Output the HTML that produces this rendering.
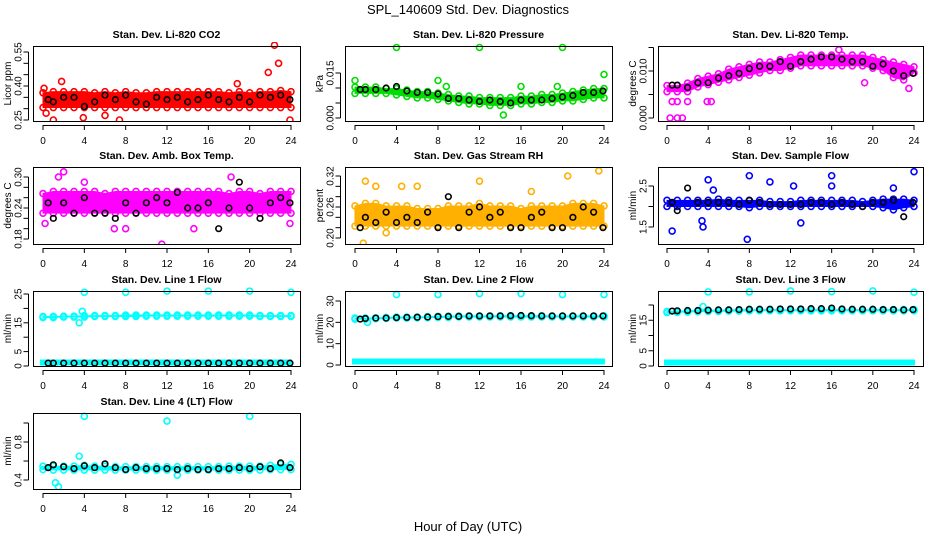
<!DOCTYPE html>
<html><head><meta charset="utf-8"><style>
html,body{margin:0;padding:0;background:#fff;width:936px;height:540px;overflow:hidden}
svg{display:block;font-family:"Liberation Sans",sans-serif}
.tt{font-weight:bold;font-size:10.5px}
.tk{font-size:10px}
</style></head><body>
<svg id="chart" width="936" height="540">
<text x="468" y="14" text-anchor="middle" font-size="13">SPL_140609  Std. Dev. Diagnostics</text>
<text x="468" y="531" text-anchor="middle" font-size="13">Hour of Day (UTC)</text>
</svg>
<script>
const hours = [0,1,2,3,4,5,6,7,8,9,10,11,12,13,14,15,16,17,18,19,20,21,22,23,24];
const xTicks = [0,4,8,12,16,20,24];

const co2Lo = [0.305,0.305,0.305,0.305,0.305,0.305,0.305,0.305,0.305,0.305,0.305,0.305,0.305,0.305,0.305,0.305,0.305,0.305,0.305,0.305,0.305,0.305,0.305,0.305,0.305];
const co2Hi = [0.37,0.375,0.375,0.375,0.375,0.37,0.375,0.37,0.375,0.37,0.37,0.375,0.375,0.375,0.375,0.375,0.375,0.375,0.37,0.375,0.37,0.375,0.375,0.38,0.375];
const co2Black = [0.34,0.33,0.35,0.35,0.31,0.33,0.36,0.34,0.36,0.33,0.32,0.35,0.34,0.35,0.33,0.34,0.36,0.34,0.33,0.35,0.33,0.36,0.35,0.36,0.34];
const co2Out = [[0.1,0.39],[0.3,0.28],[1,0.25],[1.8,0.42],[18.8,0.41],[21.8,0.46],[22.4,0.58],[22.8,0.50],[23.9,0.25],[7.4,0.25],[6,0.27],[3.9,0.26]];

const presLo = [0.0082,0.0082,0.0082,0.0082,0.0077,0.0072,0.0067,0.0067,0.0062,0.0057,0.0052,0.0047,0.0047,0.0042,0.0042,0.0042,0.0047,0.0047,0.0052,0.0052,0.0057,0.0057,0.0062,0.0067,0.0067];
const presHi = [0.0103,0.0103,0.0103,0.0098,0.0098,0.0093,0.0088,0.0088,0.0083,0.0078,0.0073,0.0073,0.0068,0.0068,0.0068,0.0068,0.0073,0.0073,0.0078,0.0078,0.0083,0.0088,0.0093,0.0098,0.0098];
const presBlack = [0.0095,0.0095,0.0095,0.01,0.0105,0.009,0.0085,0.0085,0.008,0.0065,0.0065,0.006,0.0055,0.006,0.0055,0.005,0.006,0.006,0.006,0.0065,0.007,0.0075,0.0085,0.0085,0.009];
const presOut = [[0,0.0125],[4,0.0235],[8,0.0125],[12,0.0235],[20,0.0235],[24,0.0145],[16,0.0105],[14.3,0.001],[8.8,0.0105],[19.5,0.0105]];

const tempLo = [0.0056,0.0056,0.0056,0.0066,0.0071,0.0076,0.0081,0.0086,0.0091,0.0096,0.0101,0.0101,0.0106,0.0111,0.0111,0.0111,0.0111,0.0111,0.0111,0.0111,0.0106,0.0101,0.0086,0.0081,0.0096];
const tempHi = [0.0069,0.0069,0.0074,0.0084,0.0089,0.0094,0.0104,0.0109,0.0114,0.0119,0.0119,0.0124,0.0129,0.0134,0.0134,0.0134,0.0134,0.0134,0.0134,0.0134,0.0129,0.0124,0.0119,0.0114,0.0109];
const tempBlack = [0.007,0.007,0.0065,0.0075,0.0075,0.0085,0.009,0.0095,0.0105,0.011,0.011,0.012,0.011,0.012,0.0125,0.013,0.013,0.0125,0.012,0.012,0.011,0.0115,0.01,0.009,0.0095];
const tempOut = [[0.3,0],[1,0],[1.5,0],[0.5,0.0035],[1,0.0035],[2,0.0035],[4.3,0.0035],[19.2,0.0075],[23.5,0.0063],[16.7,0.0145],[3.9,0.0035]];

const ambLo = [0.23,0.23,0.23,0.23,0.23,0.23,0.23,0.23,0.23,0.23,0.23,0.23,0.23,0.23,0.23,0.23,0.23,0.23,0.23,0.23,0.23,0.23,0.23,0.23,0.23];
const ambHi = [0.268,0.272,0.272,0.272,0.272,0.272,0.268,0.272,0.272,0.272,0.272,0.272,0.272,0.272,0.272,0.272,0.272,0.272,0.268,0.272,0.272,0.268,0.272,0.272,0.272];
const ambBlack = [0.25,0.22,0.25,0.23,0.26,0.23,0.23,0.22,0.25,0.23,0.25,0.26,0.25,0.27,0.24,0.24,0.25,0.20,0.24,0.29,0.24,0.22,0.25,0.26,0.25];
const ambOut = [[0.2,0.21],[1.5,0.30],[2,0.31],[4,0.29],[11.5,0.17],[14.6,0.20],[18.2,0.30],[8,0.20],[6.9,0.20],[23.9,0.21]];

const rhLo = [0.223,0.223,0.223,0.223,0.223,0.223,0.223,0.223,0.223,0.223,0.223,0.223,0.223,0.223,0.223,0.223,0.223,0.223,0.223,0.223,0.223,0.223,0.223,0.223,0.223];
const rhHi = [0.262,0.267,0.267,0.262,0.262,0.262,0.257,0.257,0.257,0.262,0.262,0.262,0.267,0.262,0.262,0.262,0.257,0.262,0.262,0.262,0.262,0.267,0.267,0.267,0.262];
const rhBlack = [0.22,0.24,0.23,0.25,0.23,0.24,0.23,0.25,0.22,0.28,0.22,0.25,0.26,0.24,0.25,0.22,0.22,0.24,0.25,0.22,0.22,0.24,0.26,0.25,0.22];
const rhOut = [[0.8,0.19],[1,0.31],[2,0.30],[4.5,0.30],[6,0.30],[23.5,0.33],[20.5,0.32],[12,0.31],[3,0.21],[17,0.29]];

const sfLo = [2.0,2.0,2.0,2.0,2.0,2.0,2.0,2.0,1.97,2.0,2.0,2.0,2.0,2.0,2.0,2.0,2.0,2.0,2.0,2.0,2.0,1.97,1.92,1.97,2.0];
const sfHi = [2.15,2.15,2.15,2.15,2.15,2.18,2.15,2.15,2.15,2.15,2.12,2.12,2.12,2.15,2.15,2.15,2.15,2.15,2.15,2.12,2.15,2.18,2.18,2.18,2.15];
const sfBlack = [2.1,1.9,2.45,2.1,2.1,2.1,2.1,2.05,2.15,2.1,2.05,2.05,2.05,2.05,2.1,2.1,2.05,2.1,2.05,2.0,2.1,2.1,2.15,1.75,2.1];
const sfOut = [[4,2.65],[8,2.75],[10,2.6],[16,2.75],[24,2.85],[7.8,1.2],[3.5,1.5],[4.5,2.4],[12.3,2.5],[13,1.6],[22,2.45],[0.5,1.4],[16,2.5],[3.4,1.65]];

const l1Lo = [16.8,16.8,17,17,17,17.2,17.2,17.2,17.2,17.2,17.3,17.3,17.3,17.3,17.3,17.3,17.3,17.3,17.3,17.3,17.3,17.2,17.2,17.2,17.2];
const l1Hi = [17.2,17.2,17.3,17.3,17.5,17.5,17.5,17.5,17.7,17.7,17.7,17.7,17.7,17.7,17.7,17.7,17.7,17.7,17.7,17.7,17.7,17.5,17.5,17.5,17.5];
const l1Black = [1,1,1,1,1,1,1,1,1,1,1,1,1,1,1,1,1,1,1,1,1,1,1,1,1];
const l1Out = [[4,25.6],[8,25.6],[12,26],[16,26],[20,26],[24,25.6],[3.5,15],[3.8,19]];

const l2Lo = [21.5,21.5,21.7,21.8,22,22,22.1,22.2,22.3,22.3,22.5,22.5,22.5,22.5,22.5,22.5,22.5,22.5,22.5,22.5,22.5,22.5,22.5,22.5,22.5];
const l2Hi = [22,22,22.1,22.3,22.5,22.5,22.5,22.7,22.8,22.9,23,23,23,23,23.1,23.1,23.1,23.1,23.1,23,23,23,23,23,23];
const l2Black = [21.5,21.8,22,22,22.2,22.3,22.4,22.5,22.7,22.8,22.8,23,23,23,23,23.1,23.2,23.1,23,23,23,23,23,23,23];
const l2Out = [[4,33],[8,33],[12,33.5],[16,33.5],[20,33],[24,33],[1.2,20]];

const l3Lo = [17.5,17.6,17.7,17.8,17.9,17.9,18,18,18.1,18.1,18.1,18.1,18.1,18.1,18.1,18.1,18.1,18.1,18.1,18.1,18.1,18.1,18.1,18.1,18.1];
const l3Hi = [17.9,18,18.1,18.2,18.3,18.3,18.4,18.4,18.5,18.5,18.5,18.5,18.5,18.5,18.5,18.5,18.5,18.5,18.5,18.5,18.5,18.5,18.5,18.5,18.5];
const l3Black = [18,18.1,18.2,18.2,18.3,18.4,18.4,18.5,18.6,18.6,18.6,18.7,18.7,18.7,18.8,18.8,19,18.7,18.6,18.6,18.6,18.5,18.5,18.4,18.5];
const l3Out = [[4,24.3],[8,24.3],[12,24.6],[16,24.4],[20,24.6],[24,24.2],[3.5,19.5]];

const l4Lo = [0.51,0.505,0.505,0.505,0.505,0.505,0.505,0.505,0.505,0.505,0.505,0.505,0.505,0.505,0.505,0.505,0.505,0.505,0.505,0.505,0.505,0.505,0.51,0.51,0.51];
const l4Hi = [0.545,0.545,0.545,0.545,0.555,0.545,0.545,0.54,0.54,0.54,0.54,0.54,0.54,0.54,0.54,0.54,0.54,0.54,0.545,0.545,0.545,0.545,0.555,0.565,0.565];
const l4Black = [0.53,0.56,0.54,0.52,0.55,0.53,0.57,0.53,0.51,0.53,0.52,0.52,0.52,0.51,0.52,0.51,0.51,0.52,0.52,0.53,0.52,0.54,0.52,0.58,0.53];
const l4Out = [[4,1.07],[12,1.02],[20,1.07],[3.5,0.65],[1.5,0.33],[1.2,0.37],[13,0.45]];

const panels = [
 {name:"co2",title:"Stan. Dev. Li-820 CO2",yl:"Licor ppm",c:0,r:0,ymin:0.25,ymax:0.55,yb:120,yt:52,ticks:[0.25,0.30,0.35,0.40,0.45,0.50,0.55],labs:["0.25","0.40","0.55"],col:"#ff0000",lo:co2Lo,hi:co2Hi,blk:co2Black,out:co2Out},
 {name:"pressure",title:"Stan. Dev. Li-820 Pressure",yl:"kPa",c:1,r:0,ymin:0,ymax:0.015,yb:118,yt:73,ticks:[0,0.005,0.010,0.015],labs:["0.000","0.015"],col:"#00dd00",lo:presLo,hi:presHi,blk:presBlack,out:presOut},
 {name:"temp",title:"Stan. Dev. Li-820 Temp.",yl:"degrees C",c:2,r:0,ymin:0,ymax:0.010,yb:118,yt:71,ticks:[0,0.005,0.010,0.015],labs:["0.000","0.010"],col:"#ff00ff",lo:tempLo,hi:tempHi,blk:tempBlack,out:tempOut},
 {name:"amb-temp",title:"Stan. Dev. Amb. Box Temp.",yl:"degrees C",c:0,r:1,ymin:0.18,ymax:0.30,yb:239,yt:177,ticks:[0.18,0.20,0.22,0.24,0.26,0.28,0.30],labs:["0.18","0.24","0.30"],col:"#ff00ff",lo:ambLo,hi:ambHi,blk:ambBlack,out:ambOut},
 {name:"rh",title:"Stan. Dev. Gas Stream RH",yl:"percent",c:1,r:1,ymin:0.20,ymax:0.32,yb:238,yt:176,ticks:[0.20,0.22,0.24,0.26,0.28,0.30,0.32],labs:["0.20","0.26","0.32"],col:"#ffb000",lo:rhLo,hi:rhHi,blk:rhBlack,out:rhOut},
 {name:"sample-flow",title:"Stan. Dev. Sample Flow",yl:"ml/min",c:2,r:1,ymin:1.5,ymax:2.5,yb:227,yt:186,ticks:[1.5,2.0,2.5],labs:["1.5","2.5"],col:"#0000ff",lo:sfLo,hi:sfHi,blk:sfBlack,out:sfOut},
 {name:"line1-flow",title:"Stan. Dev. Line 1 Flow",yl:"ml/min",c:0,r:2,ymin:0,ymax:25,yb:366,yt:294,ticks:[0,5,10,15,20,25],labs:["0","5","15","25"],col:"#00ffff",lo:l1Lo,hi:l1Hi,blk:l1Black,out:l1Out,low:true},
 {name:"line2-flow",title:"Stan. Dev. Line 2 Flow",yl:"ml/min",c:1,r:2,ymin:0,ymax:30,yb:365,yt:301,ticks:[0,10,20,30],labs:["0","10","20","30"],col:"#00ffff",lo:l2Lo,hi:l2Hi,blk:l2Black,out:l2Out,low:true},
 {name:"line3-flow",title:"Stan. Dev. Line 3 Flow",yl:"ml/min",c:2,r:2,ymin:0,ymax:20,yb:366,yt:305,ticks:[0,5,10,15,20],labs:["0","5","15"],col:"#00ffff",lo:l3Lo,hi:l3Hi,blk:l3Black,out:l3Out,low:true},
 {name:"line4-flow",title:"Stan. Dev. Line 4 (LT) Flow",yl:"ml/min",c:0,r:3,ymin:0.4,ymax:0.8,yb:480,yt:442,ticks:[0.4,0.6,0.8,1.0],labs:["0.4","0.8"],col:"#00ffff",lo:l4Lo,hi:l4Hi,blk:l4Black,out:l4Out}
];
const colBox=[[33,300],[345,612],[658,923]];
const colX=[[43,291],[355,604],[667,914]];
const rowBox=[[46,121],[167,244],[291,366],[413,489]];
const NS="http://www.w3.org/2000/svg";
const svg=document.getElementById('chart');
function mk(tag,attrs,parent){const e=document.createElementNS(NS,tag);for(const k in attrs)e.setAttribute(k,attrs[k]);(parent||svg).appendChild(e);return e;}
panels.forEach(p=>{
 const g=mk('g',{});
 
 
 const [bx0,bx1]=colBox[p.c],[by0,by1]=rowBox[p.r],[x0,x24]=colX[p.c];
 const xs=h=>x0+(x24-x0)*h/24;
 const ys=v=>p.yb+(p.yt-p.yb)*(v-p.ymin)/(p.ymax-p.ymin);
 const cp=mk('clipPath',{id:'cl-'+p.name},g);mk('rect',{x:bx0,y:by0-4,width:bx1-bx0,height:by1-by0+4},cp);
 const data=mk('g',{'clip-path':'url(#cl-'+p.name+')'},g);
 let pts=hours.map((h,i)=>xs(h)+','+ys(p.hi[i])).concat(hours.slice().reverse().map((h,j)=>{const i=hours.length-1-j;return xs(h)+','+ys(p.lo[i]);}));
 const band=mk('polygon',{points:pts.join(' '),fill:p.col,stroke:p.col,'stroke-width':1},data);
 
 
 hours.forEach((h,i)=>{
  [p.lo[i],p.hi[i]].forEach(v=>{
   const c=mk('circle',{cx:xs(h),cy:ys(v),r:3,fill:'none',stroke:p.col,'stroke-width':1.6},data);
   
   
  });
 });
 if(p.low){
  const lb=mk('rect',{x:xs(0)-3,y:ys(0)-6.5,width:xs(23.8)-xs(0)+6,height:6,fill:'#00ffff'},data);
  
  
 }
 p.out.forEach(o=>{
  const c=mk('circle',{cx:xs(o[0]),cy:ys(o[1]),r:3,fill:'none',stroke:p.col,'stroke-width':1.6},data);
  
  
 });
 p.blk.forEach((v,i)=>{
  const h=Math.min(23.9,Math.max(0.5,hours[i]));
  const c=mk('circle',{cx:xs(h),cy:ys(v),r:2.8,fill:'none',stroke:'#000','stroke-width':1.6},data);
  
  
 });
 const box=mk('rect',{x:bx0+0.5,y:by0+0.5,width:bx1-bx0,height:by1-by0,fill:'none',stroke:'#000','stroke-width':1},g);
 
 
 const t=mk('text',{x:(bx0+bx1)/2,y:by0-8,'text-anchor':'middle','class':'tt'},g);t.textContent=p.title;
 
 
 mk('line',{x1:xs(0),x2:xs(24),y1:by1+4.5,y2:by1+4.5,stroke:'#000'},g);
 xTicks.forEach(h=>{
  mk('line',{x1:xs(h),x2:xs(h),y1:by1+4,y2:by1+9,stroke:'#000'},g);
  const tx=mk('text',{x:xs(h),y:by1+23,'text-anchor':'middle','class':'tk'},g);tx.textContent=h;
  
  
 });
 const ax=bx0-4.5;
 mk('line',{x1:ax,x2:ax,y1:ys(p.ticks[0]),y2:ys(p.ticks[p.ticks.length-1]),stroke:'#000'},g);
 p.ticks.forEach(v=>{mk('line',{x1:ax-5,x2:ax,y1:ys(v),y2:ys(v),stroke:'#000'},g);});
 p.labs.forEach(l=>{
  const y=ys(parseFloat(l));
  const lx=ax-7;
  const ty=mk('text',{x:lx,y:y,'text-anchor':'middle','class':'tk',transform:`rotate(-90 ${lx} ${y})`},g);ty.textContent=l;
  
  
 });
 const yc=(by0+by1)/2;
 const tx0=bx0-22;
 const yt=mk('text',{x:tx0,y:yc,'text-anchor':'middle','class':'tk',transform:`rotate(-90 ${tx0} ${yc})`},g);yt.textContent=p.yl;
 
 
});
</script>
</body></html>
